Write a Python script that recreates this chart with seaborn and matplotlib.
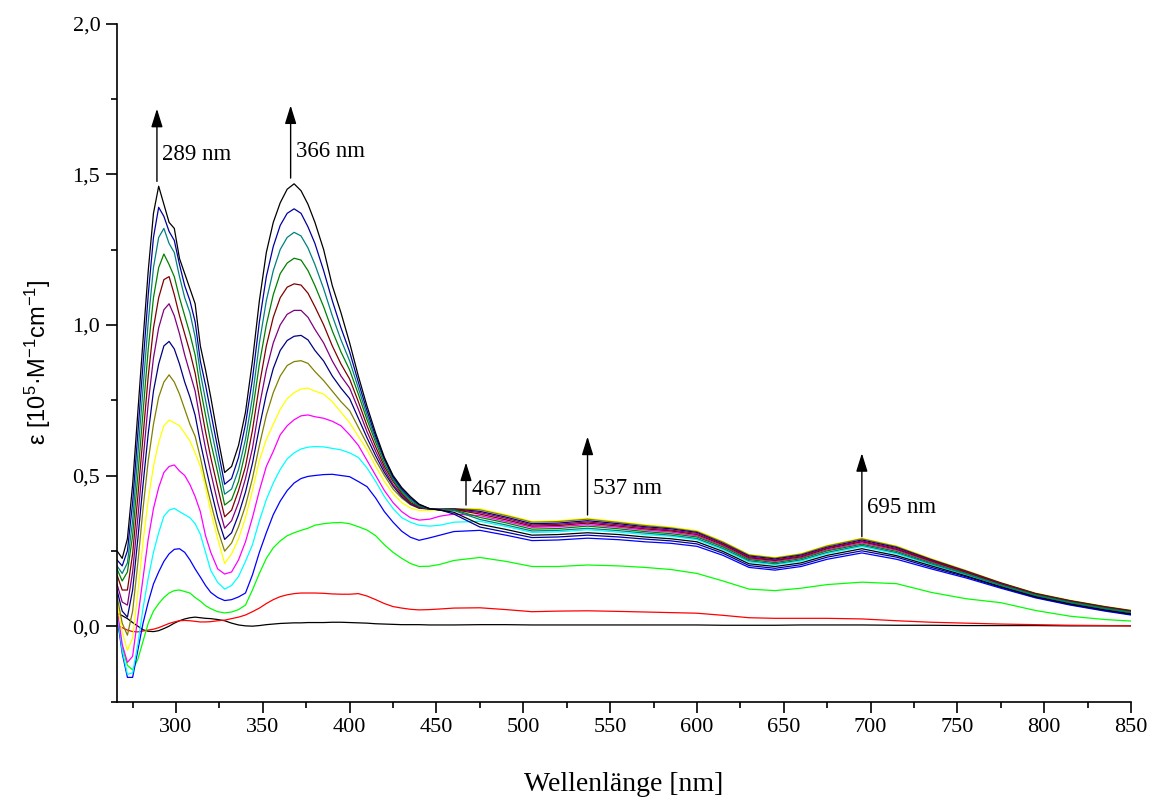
import matplotlib
matplotlib.use("Agg")
import matplotlib.pyplot as plt
import pandas as pd
import seaborn as sns
from matplotlib.ticker import MultipleLocator, FuncFormatter

# Wavelength grid (nm) shared by all spectra of the titration series
wavelength = [
    266, 269, 272, 275, 278, 281, 284, 287, 290, 293, 296, 299, 302, 305, 308, 311, 314, 317, 320,
    324, 328, 332, 336, 340, 344, 348, 352, 356, 360, 364, 368, 372, 376, 380, 385, 390, 395, 400,
    405, 410, 415, 420, 425, 430, 435, 440, 446, 452,
    460, 475, 490, 505, 520, 537, 555, 570, 585, 600, 615, 630, 645, 660, 675, 695, 715, 735, 755,
    775, 795, 815, 835, 850,
]

# Extinction coefficients, 10^5 M^-1 cm^-1, one list per titration step
spec_01 = [.043, .035, .025, .012, .000, -.012, -.017, -.018, -.015, -.008, .000, .010, .018, .024, .028, .030, .028, .026, .025,
           .022, .018, .010, .004, .001, .000, .002, .005, .007, .009, .010, .011, .011, .012, .012, .012, .013, .013, .012,
           .011, .010, .008, .007, .006, .005, .005, .005, .004, .004,
           .004, .005, .005, .004, .004, .004, .004, .004, .004, .004, .003, .003, .003, .004, .004, .004, .003, .003, .002,
           .002, .002, .001, .001, .001]
spec_02 = [.003, -.005, -.013, -.018, -.019, -.016, -.013, -.010, -.005, .002, .009, .014, .018, .019, .018, .016, .014, .014, .015,
           .018, .020, .025, .030, .037, .048, .060, .075, .088, .098, .104, .108, .110, .110, .110, .109, .107, .106, .106,
           .108, .100, .088, .075, .065, .060, .056, .054, .055, .057,
           .060, .061, .055, .048, .050, .051, .049, .047, .045, .043, .036, .028, .026, .026, .026, .024, .018, .013, .010,
           .007, .005, .003, .002, .001]
spec_03 = [.020, -.070, -.130, -.145, -.110, -.050, .010, .050, .075, .095, .110, .118, .120, .115, .110, .095, .083, .068, .058,
           .048, .044, .047, .055, .070, .120, .175, .225, .260, .283, .300, .310, .318, .325, .335, .340, .343, .344, .340,
           .330, .319, .300, .270, .245, .225, .208, .198, .199, .205,
           .218, .228, .215, .198, .198, .203, .200, .195, .188, .175, .150, .123, .118, .126, .138, .146, .141, .112, .091,
           .078, .052, .033, .022, .017]
spec_04 = [.035, -.090, -.170, -.170, -.080, .010, .080, .140, .180, .215, .240, .255, .257, .245, .220, .190, .163, .135, .112,
           .095, .085, .088, .097, .110, .170, .245, .310, .370, .415, .450, .475, .490, .497, .500, .503, .504, .500, .496,
           .480, .463, .425, .380, .345, .315, .295, .285, .293, .302,
           .314, .318, .302, .284, .286, .292, .287, .280, .275, .265, .235, .195, .186, .198, .222, .243, .222, .190, .160,
           .126, .094, .070, .050, .037]
spec_05 = [.045, -.080, -.160, -.155, -.060, .060, .160, .245, .310, .365, .385, .391, .380, .370, .360, .340, .305, .245, .185,
           .145, .123, .135, .165, .215, .270, .350, .420, .475, .520, .555, .575, .588, .594, .596, .595, .590, .585, .575,
           .560, .525, .480, .430, .390, .360, .345, .335, .332, .335,
           .345, .348, .331, .311, .313, .320, .312, .304, .298, .287, .254, .213, .204, .216, .241, .264, .240, .204, .171,
           .134, .101, .077, .057, .044]
spec_06 = [.060, -.060, -.120, -.100, .030, .160, .290, .390, .460, .510, .530, .535, .515, .500, .470, .430, .380, .300, .245,
           .190, .173, .180, .220, .280, .360, .450, .530, .580, .635, .665, .685, .698, .701, .695, .690, .680, .665, .635,
           .600, .550, .500, .450, .410, .380, .360, .352, .355, .365,
           .372, .367, .348, .328, .330, .337, .328, .319, .312, .300, .266, .224, .215, .227, .253, .276, .252, .213, .177,
           .139, .105, .081, .061, .048]
spec_07 = [.080, -.020, -.080, -.040, .110, .280, .420, .530, .610, .665, .684, .675, .665, .640, .615, .575, .530, .460, .380,
           .290, .208, .240, .290, .360, .450, .550, .620, .670, .720, .755, .775, .787, .790, .780, .770, .745, .710, .675,
           .630, .585, .530, .480, .440, .410, .392, .384, .384, .386,
           .390, .390, .370, .348, .350, .358, .347, .337, .329, .317, .281, .238, .228, .241, .268, .292, .266, .224, .185,
           .145, .110, .086, .066, .053]
spec_08 = [.100, .010, -.030, .050, .210, .390, .550, .670, .760, .810, .834, .810, .770, .720, .670, .630, .560, .480, .410,
           .320, .249, .276, .330, .400, .490, .600, .700, .775, .830, .865, .878, .881, .872, .845, .815, .780, .745, .715,
           .660, .605, .550, .500, .455, .425, .403, .391, .389, .389,
           .390, .386, .367, .345, .347, .355, .344, .334, .326, .314, .279, .236, .226, .239, .266, .290, .264, .222, .184,
           .144, .109, .085, .065, .052]
spec_09 = [.120, .050, .030, .120, .290, .470, .640, .780, .870, .930, .945, .920, .870, .810, .760, .700, .610, .530, .455,
           .360, .288, .310, .370, .445, .540, .660, .770, .855, .915, .948, .962, .965, .950, .915, .880, .830, .790, .755,
           .690, .625, .565, .510, .465, .430, .405, .392, .389, .388,
           .389, .381, .362, .340, .342, .350, .340, .330, .323, .311, .275, .233, .223, .236, .262, .286, .261, .220, .182,
           .143, .108, .084, .064, .051]
spec_10 = [.140, .080, .070, .180, .360, .550, .740, .890, .990, 1.050, 1.070, 1.030, .970, .900, .840, .780, .680, .590, .510,
           .410, .325, .350, .410, .490, .590, .730, .850, .940, 1.000, 1.035, 1.048, 1.048, 1.025, .985, .940, .880, .830, .790,
           .720, .645, .580, .520, .470, .435, .407, .394, .389, .387,
           .388, .377, .358, .336, .338, .346, .336, .327, .319, .308, .273, .230, .220, .233, .260, .283, .258, .218, .181,
           .142, .107, .083, .063, .050]
spec_11 = [.170, .120, .120, .240, .430, .630, .830, .990, 1.090, 1.150, 1.160, 1.100, 1.030, .970, .910, .840, .740, .645, .560,
           .460, .363, .385, .450, .530, .650, .800, .930, 1.025, 1.090, 1.125, 1.136, 1.132, 1.105, 1.060, 1.000, .930, .870, .820,
           .745, .665, .595, .530, .480, .440, .410, .396, .389, .387,
           .387, .372, .353, .332, .334, .342, .332, .323, .316, .304, .270, .227, .218, .230, .257, .280, .255, .216, .179,
           .140, .106, .082, .062, .049]
spec_12 = [.190, .150, .180, .300, .500, .710, .920, 1.090, 1.190, 1.235, 1.200, 1.160, 1.090, 1.030, .970, .900, .790, .700, .610,
           .510, .402, .420, .480, .580, .710, .870, 1.000, 1.100, 1.170, 1.205, 1.221, 1.215, 1.180, 1.130, 1.060, .980, .910, .850,
           .770, .685, .610, .540, .485, .445, .415, .398, .389, .386,
           .386, .361, .343, .322, .324, .332, .323, .314, .307, .296, .263, .221, .211, .224, .250, .272, .248, .210, .175,
           .137, .104, .080, .060, .047]
spec_13 = [.200, .175, .210, .350, .570, .790, 1.010, 1.190, 1.290, 1.320, 1.270, 1.240, 1.160, 1.090, 1.040, .960, .840, .750, .660,
           .550, .438, .455, .520, .620, .760, .940, 1.080, 1.180, 1.250, 1.290, 1.307, 1.295, 1.255, 1.200, 1.120, 1.030, .950, .880,
           .790, .700, .620, .550, .490, .450, .420, .400, .390, .386,
           .384, .354, .336, .316, .318, .325, .317, .309, .302, .291, .258, .217, .207, .220, .245, .268, .244, .207, .173,
           .136, .102, .078, .058, .045]
spec_14 = [.220, .200, .250, .410, .640, .870, 1.100, 1.290, 1.390, 1.360, 1.310, 1.280, 1.200, 1.130, 1.080, 1.010, .880, .800, .710,
           .590, .471, .490, .560, .670, .820, 1.010, 1.160, 1.260, 1.330, 1.370, 1.385, 1.370, 1.325, 1.270, 1.180, 1.080, .990, .910,
           .810, .715, .630, .555, .495, .455, .425, .403, .390, .386,
           .372, .329, .312, .294, .296, .302, .296, .289, .283, .273, .242, .201, .192, .204, .229, .250, .229, .195, .164,
           .129, .096, .072, .052, .039]
spec_15 = [.250, .225, .290, .470, .710, .950, 1.180, 1.370, 1.460, 1.400, 1.340, 1.320, 1.220, 1.170, 1.120, 1.070, .930, .850, .760,
           .630, .510, .530, .600, .710, .880, 1.080, 1.240, 1.340, 1.405, 1.450, 1.468, 1.445, 1.400, 1.340, 1.250, 1.130, 1.040, .940,
           .830, .730, .640, .560, .500, .460, .430, .405, .390, .385,
           .378, .338, .321, .302, .304, .310, .304, .296, .290, .280, .248, .207, .198, .210, .235, .257, .234, .200, .167,
           .131, .098, .074, .054, .041]

spectra = [spec_01, spec_02, spec_03, spec_04, spec_05, spec_06, spec_07, spec_08,
           spec_09, spec_10, spec_11, spec_12, spec_13, spec_14, spec_15]

line_colors = ["#000000", "#FF0000", "#00FF00", "#0000FF", "#00FFFF", "#FF00FF", "#FFFF00",
               "#808000", "#000080", "#800080", "#800000", "#008000", "#008080", "#0000A0", "#000000"]

# Bands that grow during the titration
band_labels = ["289 nm", "366 nm", "467 nm", "537 nm", "695 nm"]
band_nm = [289, 366, 467, 537, 695]
arrow_from = [1.476, 1.487, 0.402, 0.369, 0.297]
arrow_to = [1.717, 1.728, 0.543, 0.629, 0.574]
label_level = [1.565, 1.576, 0.452, 0.457, 0.394]

names = [f"Schritt {i + 1:02d}" for i in range(len(spectra))]
frames = [pd.DataFrame({"Wellenlänge": wavelength, "eps": s, "Spektrum": n})
          for s, n in zip(spectra, names)]
df = pd.concat(frames, ignore_index=True)

sns.set_theme(style="ticks")
plt.rcParams["font.family"] = ["Liberation Serif", "DejaVu Serif"]
plt.rcParams["mathtext.fontset"] = "custom"
plt.rcParams["mathtext.rm"] = "Liberation Sans"
plt.rcParams["mathtext.it"] = "Liberation Sans:italic"

fig = plt.figure(figsize=(11.54, 7.98), dpi=100)
W, H = 1154, 798
ax = fig.add_axes([117 / W, 1 - 701.5 / H, (1131 - 117) / W, (701.5 - 23.5) / H])

sns.lineplot(data=df, x="Wellenlänge", y="eps", hue="Spektrum", hue_order=names,
             palette=dict(zip(names, line_colors)), estimator=None, sort=False,
             legend=False, linewidth=0.9, ax=ax)

ax.set_xlim(266, 850)
ax.set_ylim(-0.25, 2.0)
for side in ("top", "right"):
    ax.spines[side].set_visible(False)
for side in ("left", "bottom"):
    ax.spines[side].set_linewidth(1.2)
    ax.spines[side].set_color("black")

ax.xaxis.set_major_locator(MultipleLocator(50))
ax.xaxis.set_minor_locator(MultipleLocator(25))
ax.yaxis.set_major_locator(MultipleLocator(0.5))
ax.yaxis.set_minor_locator(MultipleLocator(0.25))
ax.xaxis.set_major_formatter(FuncFormatter(lambda v, p: f"{v:.0f}"))
ax.yaxis.set_major_formatter(FuncFormatter(lambda v, p: f"{v:.1f}".replace(".", ",")))
ax.tick_params(which="major", direction="out", length=8, width=1.2, labelsize=16,
               pad=4, color="black", labelcolor="black")
ax.tick_params(which="minor", direction="out", length=4, width=1.2, color="black")

ax.set_xlabel("Wellenlänge [nm]", fontsize=20, labelpad=25, color="black")
ax.set_ylabel(r"ε [10$^{5}$·M$^{-1}$cm$^{-1}$]", fontsize=17, family="Liberation Sans",
              labelpad=14, color="black")

for lab, x, y0, y1, ly in zip(band_labels, band_nm, arrow_from, arrow_to, label_level):
    ax.annotate("", xy=(x, y1), xytext=(x, y0),
                arrowprops=dict(arrowstyle="-|>,head_length=0.8,head_width=0.25",
                                color="black", lw=1.0, mutation_scale=14,
                                shrinkA=0, shrinkB=0))
    ax.annotate(lab, xy=(x, ly), xytext=(4, 0), textcoords="offset points",
                ha="left", va="center", fontsize=16.5, color="black")

fig.savefig("out.png", dpi=100)
